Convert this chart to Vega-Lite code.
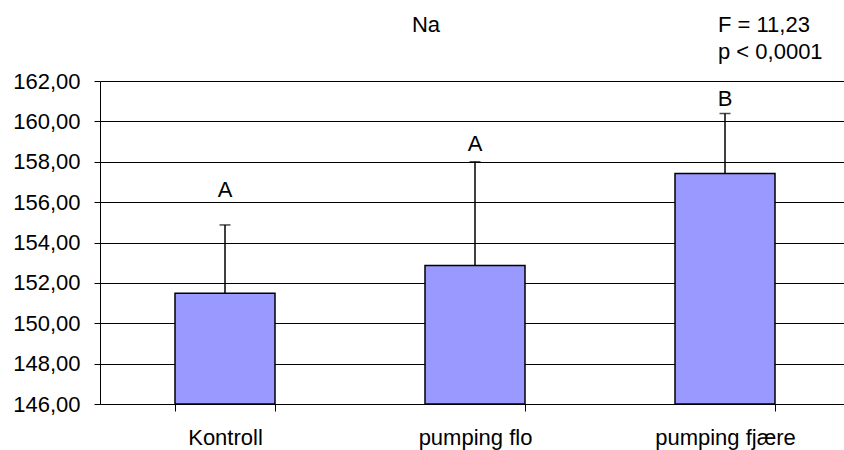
{
  "$schema": "https://vega.github.io/schema/vega-lite/v6.json",
  "width": 744,
  "height": 323,
  "autosize": {"type": "none"},
  "padding": {"left": 100, "top": 81, "right": 0, "bottom": 46},
  "background": "#ffffff",
  "config": {
    "locale": {"number": {"decimal": ",", "thousands": ".", "grouping": [3], "currency": ["", " kr"]}},
    "view": {"stroke": null},
    "font": "Liberation Sans"
  },
  "title": {
    "text": "Na",
    "fontSize": 22,
    "font": "Liberation Sans",
    "fontWeight": "normal",
    "color": "#000000",
    "anchor": "middle",
    "frame": "group",
    "baseline": "alphabetic",
    "dx": -46,
    "dy": 40,
    "offset": 0
  },
  "data": {
    "values": [
      {"group": "Kontroll", "mean": 151.49, "upper": 154.87, "letter": "A", "letter_y": 156.23},
      {"group": "pumping flo", "mean": 152.86, "upper": 158.0, "letter": "A", "letter_y": 158.54},
      {"group": "pumping fjære", "mean": 157.42, "upper": 160.39, "letter": "B", "letter_y": 160.75}
    ]
  },
  "encoding": {
    "x": {
      "field": "group",
      "type": "nominal",
      "sort": null,
      "scale": {"range": [0, 750], "paddingInner": 0.6, "paddingOuter": 0.3},
      "axis": {
        "title": null,
        "labelAngle": 0,
        "tickBand": "extent",
        "tickSize": 7,
        "tickColor": "#000000",
        "domainColor": "#000000",
        "domainWidth": 1,
        "labelFontSize": 22,
        "labelFont": "Liberation Sans",
        "labelColor": "#000000",
        "labelPadding": 16
      }
    }
  },
  "layer": [
    {
      "mark": {"type": "bar", "color": "#9999FF", "stroke": "#000000", "strokeWidth": 1.5},
      "encoding": {
        "y": {
          "field": "mean",
          "type": "quantitative",
          "scale": {"domain": [146, 162], "zero": false, "nice": false},
          "axis": {
            "title": null,
            "values": [146, 148, 150, 152, 154, 156, 158, 160, 162],
            "format": ".2f",
            "grid": true,
            "gridColor": "#000000",
            "gridWidth": 1,
            "domainColor": "#000000",
            "domainWidth": 1,
            "tickColor": "#000000",
            "tickSize": 6,
            "labelFontSize": 22,
            "labelFont": "Liberation Sans",
            "labelColor": "#000000",
            "labelPadding": 14
          }
        },
        "y2": {"datum": 146}
      }
    },
    {
      "mark": {"type": "rule", "color": "#000000", "strokeWidth": 1.5},
      "encoding": {
        "y": {"field": "mean", "type": "quantitative"},
        "y2": {"field": "upper"}
      }
    },
    {
      "mark": {"type": "tick", "color": "#000000", "thickness": 1.5, "size": 11},
      "encoding": {
        "y": {"field": "upper", "type": "quantitative"}
      }
    },
    {
      "mark": {"type": "text", "fontSize": 22, "font": "Liberation Sans", "baseline": "alphabetic", "align": "center", "color": "#000000"},
      "encoding": {
        "y": {"field": "letter_y", "type": "quantitative"},
        "text": {"field": "letter"}
      }
    },
    {
      "data": {"values": [{"group": "pumping fjære", "pos": 164.42, "label": "F = 11,23\np < 0,0001"}]},
      "mark": {"type": "text", "fontSize": 22, "font": "Liberation Sans", "baseline": "alphabetic", "align": "left", "dx": -7, "lineBreak": "\n", "lineHeight": 26.6, "color": "#000000"},
      "encoding": {
        "y": {"field": "pos", "type": "quantitative"},
        "text": {"field": "label"}
      }
    }
  ]
}
